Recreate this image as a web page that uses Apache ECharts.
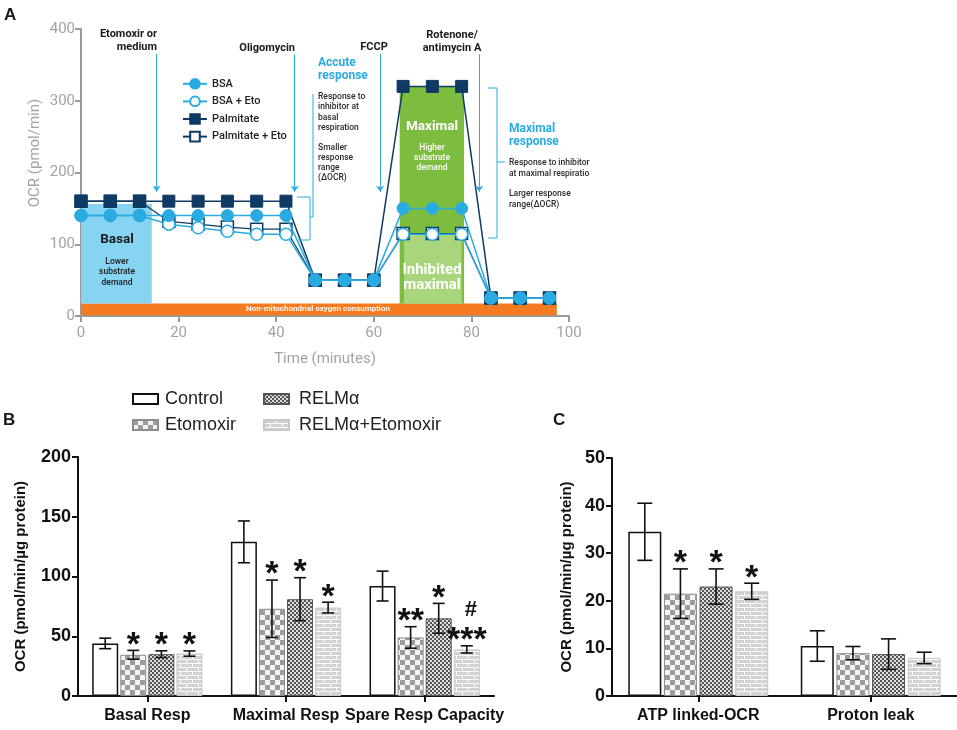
<!DOCTYPE html>
<html><head><meta charset="utf-8">
<script src="https://cdn.jsdelivr.net/npm/echarts@6/dist/echarts.min.js"></script>
<style>html,body{margin:0;padding:0;background:#fff}#c{width:957px;height:730px}</style>
</head><body><div id="c"></div>
<script>
// ---------- Panel A data ----------
const timeMin = [0,6,12,18,24,30,36,42,48,54,60,66,72,78,84,90,96];
const bsa          = [140,140,140,140,140,140,140,140,50,50,50,150,150,150,25,25,25];
const bsaEto       = [140,140,140,128,123,118,114,114,50,50,50,114,114,114,25,25,25];
const palmitate    = [160,160,160,160,160,160,160,160,50,50,50,320,320,320,25,25,25];
const palmitateEto = [160,160,160,132,128,124,121,121,50,50,50,115,115,115,25,25,25];
const injectionTimes = [15.5, 43.8, 61.3, 81.6];
const xTicksA = [0,20,40,60,80,100];
const yTicksA = [0,100,200,300,400];

// ---------- Panel B data ----------
const bCategories = ['Basal Resp','Maximal Resp','Spare Resp Capacity'];
const bControl     = [44, 129, 92];   const bControlErr  = [4.4, 17.5, 12.5]; const bControlSig  = ['','',''];
const bEtomoxir    = [34.5, 73, 49];  const bEtomoxirErr = [3.7, 24, 9];      const bEtomoxirSig = ['*','*','**'];
const bRelm        = [35, 81, 65];    const bRelmErr     = [2.8, 18, 12.5];   const bRelmSig     = ['*','*','*'];
const bRelmEto     = [35.5, 74, 39];  const bRelmEtoErr  = [2.2, 4.5, 3];     const bRelmEtoSig  = ['*','*','#\n***'];

// ---------- Panel C data ----------
const cCategories = ['ATP linked-OCR','Proton leak'];
const cControl  = [34.5, 10.5]; const cControlErr  = [6, 3.2];   const cControlSig  = ['',''];
const cEtomoxir = [21.5, 9];    const cEtomoxirErr = [5.2, 1.4]; const cEtomoxirSig = ['*',''];
const cRelm     = [23, 8.8];    const cRelmErr     = [3.7, 3.2]; const cRelmSig     = ['*',''];
const cRelmEto  = [22, 8];      const cRelmEtoErr  = [1.7, 1.2]; const cRelmEtoSig  = ['*',''];

const groupNames = ['Control','Etomoxir','RELMα','RELMα+Etomoxir'];

// ---------- styles ----------
const navy = '#0f3a63', lblue = '#29abe2';
const FA = 'Roboto', FB = 'Liberation Sans';

function pattern(w, h, draw) {
  const c = document.createElement('canvas'); c.width = w; c.height = h;
  const g = c.getContext('2d'); draw(g); return { image: c, repeat: 'repeat' };
}
const patEto = pattern(10, 10, g => { g.fillStyle = '#f4f4f4'; g.fillRect(0,0,10,10); g.fillStyle = '#9c9c9c'; g.fillRect(0,0,5,5); g.fillRect(5,5,5,5); });
const patRelm = pattern(4, 4, g => { g.fillStyle = '#dedede'; g.fillRect(0,0,4,4); g.fillStyle = '#555'; g.fillRect(0,0,2,2); g.fillRect(2,2,2,2); });
const patRelmEto = pattern(12, 8, g => { g.fillStyle = '#d2d2d2'; g.fillRect(0,0,12,8); g.fillStyle = '#fafafa'; g.fillRect(0,3,12,1); g.fillRect(0,7,12,1); g.fillRect(0,0,1,3); g.fillRect(6,4,1,3); });
const groupStyles = [
  { color: '#ffffff', borderColor: '#111', borderWidth: 1.5 },
  { color: patEto, borderColor: '#8c8c8c', borderWidth: 1 },
  { color: patRelm, borderColor: '#555', borderWidth: 1 },
  { color: patRelmEto, borderColor: '#c8c8c8', borderWidth: 1 }
];

function barSeries(axisIdx, means, gi, barW) {
  return { name: groupNames[gi], type: 'bar', xAxisIndex: axisIdx, yAxisIndex: axisIdx,
    data: means, barWidth: barW, barGap: '8%', itemStyle: groupStyles[gi], z: 2,
    emphasis: { disabled: true } };
}
function errSeries(axisIdx, means, errs, sigs, gi, barW, capW) {
  const offset = (gi - 1.5) * (barW * 1.08);
  return { type: 'custom', xAxisIndex: axisIdx, yAxisIndex: axisIdx, z: 5, silent: true,
    data: means.map((m, i) => [i, m, errs[i]]),
    renderItem: (params, api) => {
      const i = api.value(0), m = api.value(1), e = api.value(2);
      const top = api.coord([i, m + e]), bot = api.coord([i, m - e]);
      const x = top[0] + offset, hw = capW / 2;
      const ls = { stroke: '#111', lineWidth: 1.6 };
      const ch = [
        { type: 'line', shape: { x1: x, y1: top[1], x2: x, y2: bot[1] }, style: ls },
        { type: 'line', shape: { x1: x - hw, y1: top[1], x2: x + hw, y2: top[1] }, style: ls },
        { type: 'line', shape: { x1: x - hw, y1: bot[1], x2: x + hw, y2: bot[1] }, style: ls }
      ];
      const s = sigs[params.dataIndex];
      if (s) {
        const lines = s.split('\n');
        const stars = lines[lines.length - 1];
        ch.push({ type: 'text', x: x, y: top[1] - 5, style: { text: stars, fill: '#111',
          font: 'bold 34px "Liberation Sans"', align: 'center', verticalAlign: 'middle' } });
        if (lines.length > 1) {
          ch.push({ type: 'text', x: x + 4, y: top[1] - 36, style: { text: lines[0], fill: '#111',
            font: 'bold 22px "Liberation Sans"', align: 'center', verticalAlign: 'middle' } });
        }
      }
      return { type: 'group', children: ch };
    } };
}

const gray = '#9b9b9b', grayTxt = '#a3a3a3';
function catAxis(gi, cats) {
  return { gridIndex: gi, type: 'category', data: cats,
    axisLine: { show: true, lineStyle: { color: '#111', width: 2 } },
    axisTick: { show: true, alignWithLabel: true, length: 6, lineStyle: { color: '#111', width: 2 } },
    axisLabel: { color: '#111', fontFamily: FB, fontWeight: 'bold', fontSize: 16, margin: 12, interval: 0, hideOverlap: false },
    splitLine: { show: false } };
}
function valAxisBC(gi, max, interval, nameGap) {
  return { gridIndex: gi, type: 'value', min: 0, max: max, interval: interval,
    axisLine: { show: true, lineStyle: { color: '#111', width: 2 } },
    axisTick: { show: true, length: 6, lineStyle: { color: '#111', width: 2 } },
    axisLabel: { color: '#111', fontFamily: FB, fontWeight: 'bold', fontSize: 18, margin: 7 },
    splitLine: { show: false },
    name: 'OCR (pmol/min/µg protein)', nameLocation: 'middle', nameGap: nameGap,
    nameTextStyle: { color: '#111', fontFamily: FB, fontWeight: 'bold', fontSize: 15 } };
}

// ---------- graphic annotations (panel A text, brackets, panel letters) ----------
function T(text, x, y, o) {
  o = o || {};
  return { type: 'text', x: x, y: y, silent: true, z: 20,
    style: Object.assign({ text: text, fill: o.fill || '#1a1a1a',
      font: (o.weight || 'bold') + ' ' + (o.size || 11) + 'px ' + (o.family || FA),
      align: o.align || 'left', verticalAlign: 'middle' }, o.extra || {}) };
}
const small = { size: 8.5, weight: '500', fill: '#2a2a2a' };
const smallW = { size: 8.5, weight: '500', fill: '#ffffff', align: 'center' };
const graphics = [
  T('A', 4, 15, { size: 17, family: FB }),
  T('B', 3, 420, { size: 17, family: FB }),
  T('C', 553, 420, { size: 17, family: FB }),
  { type: 'text', x: 35, y: 153, rotation: Math.PI / 2, silent: true,
    style: { text: 'OCR (pmol/min)', fill: grayTxt, font: '15px Roboto', align: 'center', verticalAlign: 'middle' } },
  T('Etomoxir or', 157, 34, { align: 'right' }),
  T('medium', 157, 47, { align: 'right' }),
  T('Oligomycin', 295, 48, { align: 'right' }),
  T('FCCP', 374, 47, { align: 'center' }),
  T('Rotenone/', 452, 35, { align: 'center' }),
  T('antimycin A', 452, 48, { align: 'center' }),
  T('Accute', 318, 63, { size: 12, fill: lblue }),
  T('response', 318, 76, { size: 12, fill: lblue }),
  T('Response to', 318, 97, small), T('inhibitor at', 318, 107, small),
  T('basal', 318, 118, small), T('respiration', 318, 128, small),
  T('Smaller', 318, 148, small), T('response', 318, 158, small),
  T('range', 318, 168, small), T('(ΔOCR)', 318, 178, small),
  T('Maximal', 432, 127, { size: 13.5, fill: '#ffffff', align: 'center' }),
  T('Higher', 432, 148, smallW), T('substrate', 432, 158, smallW), T('demand', 432, 168, smallW),
  T('Inhibited', 432, 270, { size: 15, fill: '#ffffff', align: 'center' }),
  T('maximal', 432, 285, { size: 15, fill: '#ffffff', align: 'center' }),
  T('Maximal', 509, 129, { size: 12, fill: lblue }),
  T('response', 509, 142, { size: 12, fill: lblue }),
  T('Response to inhibitor', 509, 163, small),
  T('at maximal respiration', 509, 174, Object.assign({}, small, { extra: { width: 83, overflow: 'truncate', ellipsis: '' } })),
  T('Larger response', 509, 194, small), T('range(ΔOCR)', 509, 205, small),
  T('Basal', 117, 240, { size: 13.5, align: 'center' }),
  T('Lower', 117, 262, { size: 8.5, weight: '500', align: 'center' }),
  T('substrate', 117, 272, { size: 8.5, weight: '500', align: 'center' }),
  T('demand', 117, 283, { size: 8.5, weight: '500', align: 'center' }),
  T('Non-mitochondrial oxygen consumption', 318, 309, { size: 8, weight: '600', fill: '#ffffff', align: 'center' }),
  { type: 'polyline', silent: true, z: 20, shape: { points: [[297,197],[310,197],[310,240],[298,240]] }, style: { stroke: lblue, lineWidth: 1, fill: null } },
  { type: 'polyline', silent: true, z: 20, shape: { points: [[310,217],[313,217],[313,94]] }, style: { stroke: lblue, lineWidth: 1, fill: null } },
  { type: 'polyline', silent: true, z: 20, shape: { points: [[488,88],[497,88],[497,238],[488,238]] }, style: { stroke: lblue, lineWidth: 1, fill: null } },
  { type: 'polyline', silent: true, z: 20, shape: { points: [[497,162],[505,162]] }, style: { stroke: lblue, lineWidth: 1, fill: null } }
];

const zip = (xs, ys) => xs.map((x, i) => [x, ys[i]]);
const option = {
  animation: false,
  textStyle: { fontFamily: FB },
  grid: [
    { left: 81, top: 29, width: 488, height: 287, containLabel: false, outerBoundsMode: 'none' },
    { left: 78, top: 457, width: 416, height: 239, containLabel: false, outerBoundsMode: 'none' },
    { left: 612, top: 458, width: 345, height: 238, containLabel: false, outerBoundsMode: 'none' }
  ],
  xAxis: [
    { gridIndex: 0, type: 'value', min: xTicksA[0], max: xTicksA[xTicksA.length - 1], interval: 20,
      axisLine: { show: true, onZero: false, lineStyle: { color: gray, width: 2 } },
      axisTick: { show: true, length: 6, lineStyle: { color: gray, width: 2 } },
      axisLabel: { color: grayTxt, fontFamily: FA, fontSize: 15, margin: 10 },
      splitLine: { show: false },
      name: 'Time (minutes)', nameLocation: 'middle', nameGap: 36,
      nameTextStyle: { color: grayTxt, fontFamily: FA, fontSize: 15 } },
    catAxis(1, bCategories),
    catAxis(2, cCategories)
  ],
  yAxis: [
    { gridIndex: 0, type: 'value', min: yTicksA[0], max: yTicksA[yTicksA.length - 1], interval: 100,
      axisLine: { show: true, lineStyle: { color: gray, width: 2 } },
      axisTick: { show: true, length: 6, lineStyle: { color: gray, width: 2 } },
      axisLabel: { color: grayTxt, fontFamily: FA, fontSize: 15, margin: 6 },
      splitLine: { show: false } },
    valAxisBC(1, 200, 50, 50),
    valAxisBC(2, 50, 10, 38)
  ],
  legend: [
    { data: ['BSA','BSA + Eto','Palmitate','Palmitate + Eto'], orient: 'vertical', left: 177, top: 73,
      itemWidth: 24, itemHeight: 12, itemGap: 6, selectedMode: false,
      textStyle: { fontFamily: FA, fontSize: 11, fontWeight: 500, color: '#222' } },
    { data: ['Control','Etomoxir'], orient: 'vertical', left: 127, top: 385, icon: 'rect',
      itemWidth: 25, itemHeight: 10, itemGap: 8, selectedMode: false,
      textStyle: { fontFamily: FB, fontSize: 18, color: '#222', padding: [0,0,0,2] } },
    { data: ['RELMα','RELMα+Etomoxir'], orient: 'vertical', left: 258, top: 385, icon: 'rect',
      itemWidth: 25, itemHeight: 10, itemGap: 8, selectedMode: false,
      textStyle: { fontFamily: FB, fontSize: 18, color: '#222', padding: [0,0,0,5] } }
  ],
  series: [
    { type: 'line', xAxisIndex: 0, yAxisIndex: 0, data: [[0, 0]], showSymbol: false, silent: true, z: 1,
      lineStyle: { opacity: 0 },
      markArea: { silent: true, data: [
        [{ coord: [0, 1], itemStyle: { color: '#f47b20' } }, { coord: [97.5, 17.5] }],
        [{ coord: [0, 17.5], itemStyle: { color: '#86d3f2' } }, { coord: [14.5, 156] }],
        [{ coord: [65.3, 17.5], itemStyle: { color: '#7cbc3f' } }, { coord: [78.5, 320] }],
        [{ coord: [66.2, 17.5], itemStyle: { color: '#a9d57c' } }, { coord: [78.0, 113] }]
      ] },
      markLine: { silent: true, symbol: ['none', 'arrow'], symbolSize: 6, label: { show: false },
        lineStyle: { color: lblue, width: 1, type: 'solid' },
        data: injectionTimes.map(t => [{ coord: [t, 365] }, { coord: [t, 173] }]) } },
    { name: 'Palmitate + Eto', type: 'line', xAxisIndex: 0, yAxisIndex: 0, data: zip(timeMin, palmitateEto),
      symbol: 'rect', symbolSize: 12, z: 3, lineStyle: { color: navy, width: 1.2 },
      itemStyle: { color: '#ffffff', borderColor: navy, borderWidth: 1.5 } },
    { name: 'Palmitate', type: 'line', xAxisIndex: 0, yAxisIndex: 0, data: zip(timeMin, palmitate),
      symbol: 'rect', symbolSize: 12, z: 3, lineStyle: { color: navy, width: 1.5 },
      itemStyle: { color: navy, borderColor: navy, borderWidth: 1 } },
    { name: 'BSA + Eto', type: 'line', xAxisIndex: 0, yAxisIndex: 0, data: zip(timeMin, bsaEto),
      symbol: 'circle', symbolSize: 12, z: 4, lineStyle: { color: lblue, width: 1.5 },
      itemStyle: { color: '#ffffff', borderColor: lblue, borderWidth: 1.5 } },
    { name: 'BSA', type: 'line', xAxisIndex: 0, yAxisIndex: 0, data: zip(timeMin, bsa),
      symbol: 'circle', symbolSize: 12, z: 4, lineStyle: { color: lblue, width: 1.5 },
      itemStyle: { color: lblue, borderColor: lblue, borderWidth: 1 } },

    barSeries(1, bControl, 0, 26), barSeries(1, bEtomoxir, 1, 26), barSeries(1, bRelm, 2, 26), barSeries(1, bRelmEto, 3, 26),
    errSeries(1, bControl, bControlErr, bControlSig, 0, 26, 12),
    errSeries(1, bEtomoxir, bEtomoxirErr, bEtomoxirSig, 1, 26, 12),
    errSeries(1, bRelm, bRelmErr, bRelmSig, 2, 26, 12),
    errSeries(1, bRelmEto, bRelmEtoErr, bRelmEtoSig, 3, 26, 12),

    barSeries(2, cControl, 0, 33), barSeries(2, cEtomoxir, 1, 33), barSeries(2, cRelm, 2, 33), barSeries(2, cRelmEto, 3, 33),
    errSeries(2, cControl, cControlErr, cControlSig, 0, 33, 15),
    errSeries(2, cEtomoxir, cEtomoxirErr, cEtomoxirSig, 1, 33, 15),
    errSeries(2, cRelm, cRelmErr, cRelmSig, 2, 33, 15),
    errSeries(2, cRelmEto, cRelmEtoErr, cRelmEtoSig, 3, 33, 15)
  ],
  graphic: graphics
};
const chart = echarts.init(document.getElementById('c'), null, { renderer: 'canvas' });
chart.setOption(option);
</script></body></html>
